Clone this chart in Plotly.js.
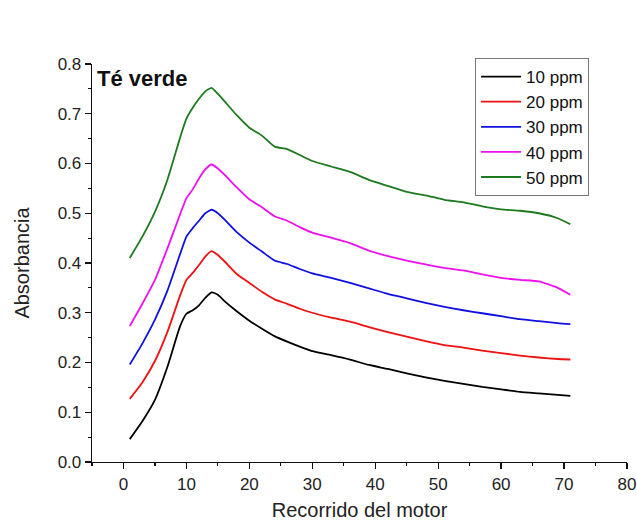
<!DOCTYPE html>
<html>
<head>
<meta charset="utf-8">
<script src="https://cdn.plot.ly/plotly-3.0.1.min.js"></script>
<style>html,body{margin:0;padding:0;background:#fff;}#chart{width:637px;height:523px;}</style>
</head>
<body>
<div id="chart"></div>
<script>
const xVals = [1,3,5,7,9,10,11,12,13,14,15,16,18,20,22,24,26,28,30,33,36,39,42,45,48,51,54,57,60,63,66,69,71];
const ppm10 = [0.046,0.082,0.125,0.192,0.273,0.298,0.305,0.315,0.330,0.341,0.336,0.324,0.303,0.284,0.268,0.253,0.242,0.232,0.223,0.215,0.206,0.195,0.187,0.178,0.170,0.163,0.157,0.151,0.146,0.141,0.138,0.135,0.133];
const ppm20 = [0.127,0.160,0.203,0.262,0.335,0.366,0.380,0.396,0.413,0.424,0.416,0.404,0.378,0.360,0.342,0.327,0.318,0.308,0.300,0.290,0.282,0.271,0.261,0.252,0.243,0.235,0.230,0.224,0.219,0.214,0.210,0.207,0.206];
const ppm30 = [0.196,0.238,0.286,0.345,0.418,0.453,0.470,0.485,0.500,0.507,0.500,0.488,0.462,0.441,0.423,0.405,0.398,0.388,0.379,0.370,0.360,0.349,0.338,0.329,0.320,0.312,0.305,0.299,0.293,0.287,0.283,0.279,0.277];
const ppm40 = [0.273,0.318,0.366,0.430,0.498,0.530,0.548,0.570,0.588,0.598,0.590,0.578,0.552,0.528,0.512,0.494,0.485,0.472,0.461,0.451,0.440,0.425,0.414,0.405,0.397,0.390,0.385,0.377,0.370,0.366,0.363,0.350,0.336];
const ppm50 = [0.410,0.453,0.503,0.568,0.652,0.690,0.712,0.730,0.745,0.752,0.740,0.726,0.697,0.672,0.656,0.634,0.629,0.617,0.605,0.594,0.583,0.567,0.555,0.543,0.536,0.527,0.522,0.514,0.508,0.505,0.500,0.490,0.478];
const seriesNames = ["10 ppm","20 ppm","30 ppm","40 ppm","50 ppm"];
const seriesColors = ["#000000","#f01010","#1010e0","#ee10ee","#1e7a1e"];
const seriesData = [ppm10, ppm20, ppm30, ppm40, ppm50];

const traces = seriesData.map((ys, i) => ({
  x: xVals, y: ys, type: "scatter", mode: "lines", name: seriesNames[i],
  line: {color: seriesColors[i], width: 1.8, shape: "spline", smoothing: 0.5}
}));

const fam = "Arial, Liberation Sans, sans-serif";
const axisFont = {family: fam, size: 17, color: "#222"};
const layout = {
  width: 637, height: 523,
  margin: {l: 92, r: 10, t: 64, b: 61},
  paper_bgcolor: "#ffffff", plot_bgcolor: "#ffffff",
  showlegend: true,
  legend: {
    x: 0.716, y: 1.015, xanchor: "left", yanchor: "top",
    bgcolor: "#ffffff", bordercolor: "#777", borderwidth: 1,
    font: {family: fam, size: 17, color: "#111"},
    tracegroupgap: 0, itemwidth: 40
  },
  xaxis: {
    range: [-5, 80], dtick: 10, tick0: 0,
    showgrid: false, zeroline: false,
    showline: true, linecolor: "#111", linewidth: 1.3,
    ticks: "outside", ticklen: 6, tickwidth: 1.3, tickcolor: "#111",
    minor: {dtick: 5, tick0: 0, ticks: "outside", ticklen: 3, tickwidth: 1.2, tickcolor: "#111", showgrid: false},
    tickfont: axisFont,
    title: {text: "Recorrido del motor", font: {family: fam, size: 20, color: "#222"}, standoff: 10}
  },
  yaxis: {
    range: [0, 0.8], dtick: 0.1, tick0: 0, tickformat: ".1f",
    showgrid: false, zeroline: false,
    showline: true, linecolor: "#111", linewidth: 1.3,
    ticks: "outside", ticklen: 6, tickwidth: 1.3, tickcolor: "#111",
    minor: {dtick: 0.05, tick0: 0, ticks: "outside", ticklen: 3, tickwidth: 1.2, tickcolor: "#111", showgrid: false},
    tickfont: axisFont,
    title: {text: "Absorbancia", font: {family: fam, size: 20, color: "#222"}, standoff: 22}
  },
  annotations: [{
    text: "<b>Té verde</b>", xref: "paper", yref: "paper",
    x: 0.006, y: 0.963, xanchor: "left", yanchor: "middle", showarrow: false,
    font: {family: fam, size: 22, color: "#111"}
  }]
};
Plotly.newPlot("chart", traces, layout, {displayModeBar: false, staticPlot: true});
</script>
</body>
</html>
